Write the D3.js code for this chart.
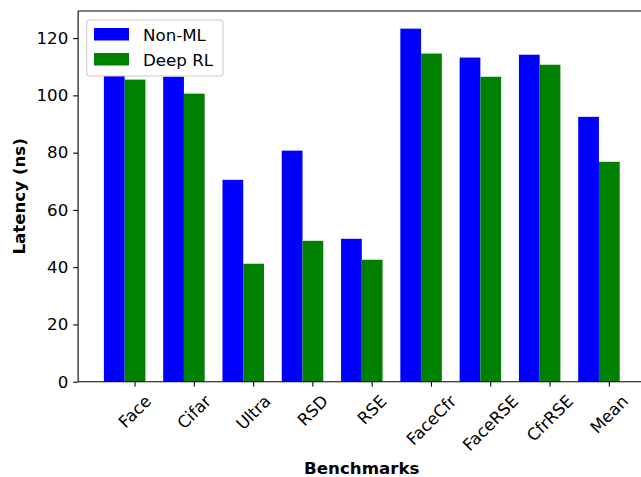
<!DOCTYPE html>
<html><head><meta charset="utf-8">
<script src="https://cdn.jsdelivr.net/npm/d3@7"></script>
<style>body{margin:0;background:#fff}svg{display:block}text{font-family:"DejaVu Sans",sans-serif}</style>
</head><body>
<svg id="c" width="641" height="477"></svg>
<script>
const categories = ["Face","Cifar","Ultra","RSD","RSE","FaceCfr","FaceRSE","CfrRSE","Mean"];
const nonML = [107, 106.5, 70.5, 80.7, 49.9, 123.3, 113.2, 114.2, 92.5];
const deepRL = [105.5, 100.6, 41.2, 49.2, 42.6, 114.6, 106.5, 110.7, 76.8];
const yTicks = [0, 20, 40, 60, 80, 100, 120];
const seriesNames = ["Non-ML", "Deep RL"];
const colors = ["#0000ff", "#008000"];

(function () {
const svg = d3.select("#c");
const fs = 16.67;
const pL = 78.1, pR = 645.5, pT = 11, pB = 381.7;
const w = 0.35;
const n = categories.length;
const xmin = -1.5 * w, xmax = (n - 1) + 0.5 * w;
const xm = (xmax - xmin) * 0.05;
const x = d3.scaleLinear().domain([xmin - xm, xmax + xm]).range([pL, pR]);
const ymaxData = d3.max(nonML.concat(deepRL));
const y = d3.scaleLinear().domain([0, ymaxData * 1.05]).range([pB, pT]);
const ppu = x(1) - x(0);

const g = svg.append("g");
g.selectAll("rect.b").data(nonML).join("rect").attr("class", "b")
  .attr("x", (d, i) => x(i - 1.5 * w)).attr("width", w * ppu)
  .attr("y", d => y(d)).attr("height", d => y(0) - y(d)).attr("fill", colors[0]);
g.selectAll("rect.g").data(deepRL).join("rect").attr("class", "g")
  .attr("x", (d, i) => x(i - 0.5 * w)).attr("width", w * ppu)
  .attr("y", d => y(d)).attr("height", d => y(0) - y(d)).attr("fill", colors[1]);

const sc = "#000", sw = 1.1;
svg.append("line").attr("x1", pL).attr("x2", pL).attr("y1", pT).attr("y2", pB).attr("stroke", sc).attr("stroke-width", sw);
svg.append("line").attr("x1", pL).attr("x2", pR).attr("y1", pB).attr("y2", pB).attr("stroke", sc).attr("stroke-width", sw);
svg.append("line").attr("x1", pL).attr("x2", pR).attr("y1", pT).attr("y2", pT).attr("stroke", sc).attr("stroke-width", sw);
svg.append("line").attr("x1", pR).attr("x2", pR).attr("y1", pT).attr("y2", pB).attr("stroke", sc).attr("stroke-width", sw);

const yAxis = d3.axisLeft(y).tickValues(yTicks).tickSize(4.9).tickPadding(4.9).tickFormat(d3.format("d"));
const ya = svg.append("g").attr("transform", `translate(${pL},0)`).call(yAxis);
ya.select(".domain").remove();
ya.selectAll("line").attr("stroke", sc).attr("stroke-width", sw);
ya.selectAll("text").attr("font-size", fs).attr("fill", "#000").attr("font-family", "DejaVu Sans");

const xa = svg.append("g");
categories.forEach((c, i) => {
  const tx = x(i);
  xa.append("line").attr("x1", tx).attr("x2", tx).attr("y1", pB).attr("y2", pB + 4.9).attr("stroke", sc).attr("stroke-width", sw);
  const t = xa.append("text").text(c).attr("font-size", fs).attr("fill", "#000");
  const tw = t.node().getComputedTextLength();
  const th = fs * 1.17;
  const H = (tw + th) * Math.SQRT1_2;
  const cy = pB + 9.8 + H / 2;
  t.attr("text-anchor", "middle").attr("dominant-baseline", "central")
   .attr("transform", `translate(${tx},${cy}) rotate(-45)`);
});

svg.append("text").text("Benchmarks").attr("x", (pL + pR) / 2).attr("y", 474)
  .attr("text-anchor", "middle").attr("font-size", fs).attr("font-weight", "bold");
svg.append("text").text("Latency (ns)").attr("transform", `translate(25,${(pT + pB) / 2}) rotate(-90)`)
  .attr("text-anchor", "middle").attr("font-size", fs).attr("font-weight", "bold");

const lg = svg.append("g");
lg.append("rect").attr("x", 86.7).attr("y", 20).attr("width", 136.3).attr("height", 56)
  .attr("rx", 3.3).attr("fill", "#fff").attr("stroke", "#cccccc").attr("stroke-width", 1.1);
seriesNames.forEach((s, i) => {
  const yy = 28 + i * 25;
  lg.append("rect").attr("x", 94).attr("y", yy).attr("width", 35).attr("height", 12.5).attr("fill", colors[i]);
  lg.append("text").text(s).attr("x", 143).attr("y", yy + 12.8).attr("font-size", fs).attr("fill", "#000");
});
})();
</script>
</body></html>
